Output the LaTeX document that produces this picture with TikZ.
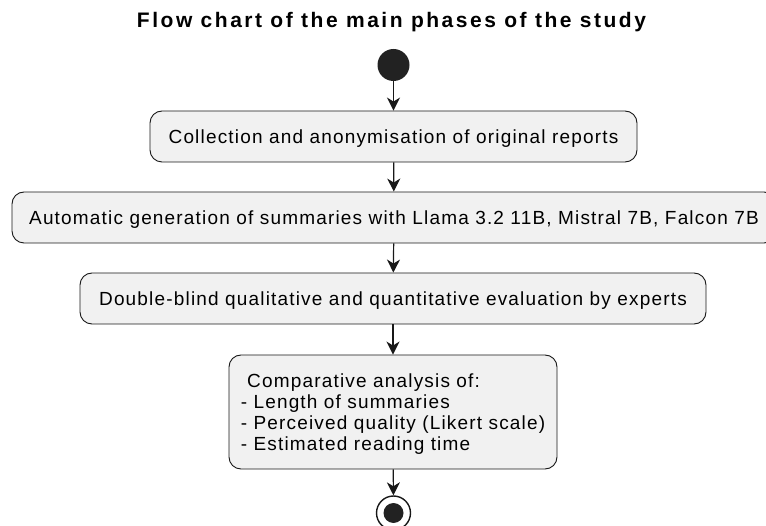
\documentclass[tikz,border=0pt]{standalone}
\usepackage{fontspec}
\usetikzlibrary{arrows.meta}
\newfontfamily\bodyfont[LetterSpace=6.2]{Liberation Sans}
\newfontfamily\titlefont[LetterSpace=12]{Liberation Sans}
\definecolor{boxfill}{HTML}{F1F1F1}
\definecolor{edge}{HTML}{181818}
\definecolor{dot}{HTML}{222222}
\tikzset{
  phase/.style={draw=edge, fill=boxfill, line width=0.9pt, rounded corners=12pt,
    inner sep=0pt, text depth=0pt, font=\bodyfont\fontsize{19}{21}\selectfont, text=black},
  flow/.style={draw=edge, line width=1.2pt, -{Stealth[length=13pt,width=13pt,inset=4pt]}},
}
\begin{document}
\begin{tikzpicture}[x=1pt,y=-1pt]
\useasboundingbox (0,0) rectangle (766,526);
\node[font=\titlefont\bfseries\fontsize{21}{24}\selectfont] (title) at (391.5,22) {Flow chart of the main phases of the study};
\node[circle, fill=dot, minimum size=32pt, inner sep=0pt] (start) at (393.5,65) {};
\node[phase, minimum width=487pt, minimum height=51pt] (b1) at (393.5,136.5) {Collection and anonymisation of original reports};
\node[phase, minimum width=764pt, minimum height=51pt] (b2) at (394,217.5) {Automatic generation of summaries with Llama 3.2 11B, Mistral 7B, Falcon 7B};
\node[phase, minimum width=626pt, minimum height=51pt] (b3) at (393,298.5) {Double-blind qualitative and quantitative evaluation by experts};
\node[phase, minimum width=328pt, minimum height=114pt, align=left] (b4) at (393,412) {\ Comparative analysis of:\\- Length of summaries\\- Perceived quality (Likert scale)\\- Estimated reading time};
\node[circle, draw=edge, line width=1.4pt, minimum size=34pt, inner sep=0pt] (stop) at (393.5,513) {};
\node[circle, fill=dot, minimum size=20pt, inner sep=0pt] (stopdot) at (stop.center) {};
\draw[flow] (start) -- (b1);
\draw[flow] (b1) -- (b2);
\draw[flow] (b2) -- (b3);
\draw[flow] (b3) -- (b4);
\draw[flow] (b4) -- (stop);
\end{tikzpicture}
\end{document}
